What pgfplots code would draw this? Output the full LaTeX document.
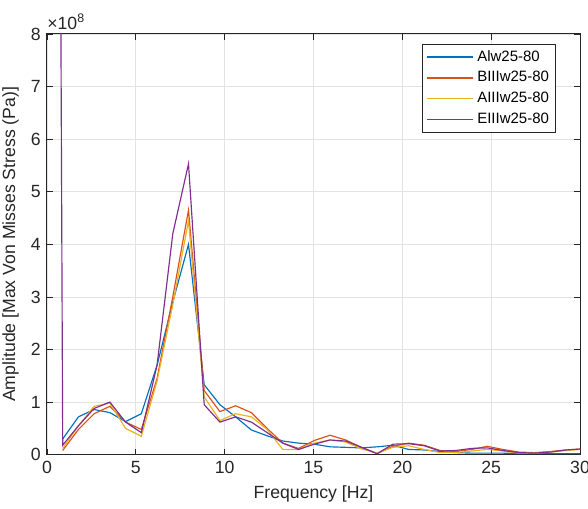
\documentclass[border=0pt]{standalone}
\usepackage{fontspec}
\setmainfont{Liberation Sans}
\usepackage{pgfplots}
\pgfplotsset{compat=1.18}
\usetikzlibrary{calc}
\definecolor{mblue}{rgb}{0,0.447,0.741}
\definecolor{morange}{rgb}{0.85,0.325,0.098}
\definecolor{myellow}{rgb}{0.929,0.694,0.125}
\definecolor{mpurple}{rgb}{0.494,0.184,0.556}
\definecolor{axgray}{rgb}{0.15,0.15,0.15}
\begin{document}
\fontsize{10.6}{12.7}\selectfont
\begin{tikzpicture}
\begin{axis}[
  name=ax,
  width=320pt, height=252.6pt, scale only axis,
  xmin=0, xmax=30, ymin=0, ymax=8,
  xtick={0,5,...,30}, ytick={0,...,8},
  grid=major, major grid style={gray!22, line width=0.4pt},
  axis line style={axgray, line width=0.6pt},
  tick style={axgray, line width=0.5pt},
  tick align=inside, major tick length=3.5pt,
  ticklabel style={text=axgray, font=\fontsize{10.6}{12}\selectfont},
  /pgf/number format/assume math mode=true,
  xlabel={Frequency [Hz]},
  ylabel={Amplitude [Max Von Misses Stress (Pa)]},
  label style={text=axgray, font=\fontsize{10.6}{12}\selectfont},
  legend style={at={(rel axis cs:0.955,0.976)}, anchor=north east,
    draw=axgray, line width=0.5pt, fill=white,
    font=\fontsize{9}{10}\selectfont, text=black,
    row sep=0.6pt, inner sep=1.5pt, inner xsep=2pt},
  legend cell align=left,
  legend image code/.code={\draw[#1, line width=0.8pt] (0pt,0pt) -- (28pt,0pt);},
  every axis plot/.append style={line width=0.7pt},
]
\addplot[mblue] coordinates {
(0.885,0.30) (1.77,0.72) (2.655,0.86) (3.54,0.80) (4.425,0.63) (5.31,0.78)
(6.195,1.70) (7.08,2.90) (7.965,4.00) (8.85,1.33) (9.735,0.95) (10.62,0.72)
(11.505,0.47) (12.39,0.36) (13.275,0.26) (14.16,0.22) (15.045,0.20) (15.93,0.15)
(16.815,0.14) (17.7,0.13) (18.585,0.15) (19.47,0.18) (20.355,0.10) (21.24,0.09)
(22.125,0.06) (23.01,0.04) (23.895,0.03) (24.78,0.03) (25.665,0.03) (26.55,0.02)
(27.435,0.02) (28.32,0.02) (29.205,0.02) (30.09,0.02)};
\addlegendentry{Alw25-80}
\addplot[morange] coordinates {
(0.885,0.08) (1.77,0.48) (2.655,0.78) (3.54,0.92) (4.425,0.62) (5.31,0.48)
(6.195,1.45) (7.08,3.00) (7.965,4.65) (8.85,1.22) (9.735,0.82) (10.62,0.93)
(11.505,0.80) (12.39,0.50) (13.275,0.22) (14.16,0.12) (15.045,0.27) (15.93,0.37)
(16.815,0.28) (17.7,0.14) (18.585,0.02) (19.47,0.16) (20.355,0.22) (21.24,0.18)
(22.125,0.08) (23.01,0.06) (23.895,0.10) (24.78,0.16) (25.665,0.10) (26.55,0.05)
(27.435,0.04) (28.32,0.06) (29.205,0.09) (30.09,0.11)};
\addlegendentry{BIIIw25-80}
\addplot[myellow] coordinates {
(0.885,0.12) (1.77,0.55) (2.655,0.92) (3.54,0.98) (4.425,0.50) (5.31,0.35)
(6.195,1.40) (7.08,2.85) (7.965,4.45) (8.85,1.10) (9.735,0.65) (10.62,0.78)
(11.505,0.72) (12.39,0.48) (13.275,0.10) (14.16,0.10) (15.045,0.22) (15.93,0.28)
(16.815,0.24) (17.7,0.11) (18.585,0.03) (19.47,0.14) (20.355,0.17) (21.24,0.10)
(22.125,0.04) (23.01,0.04) (23.895,0.07) (24.78,0.10) (25.665,0.07) (26.55,0.03)
(27.435,0.03) (28.32,0.05) (29.205,0.08) (30.09,0.10)};
\addlegendentry{AIIIw25-80}
\addplot[mpurple] coordinates {
(0,70) (0.885,0.18) (1.77,0.55) (2.655,0.88) (3.54,1.00) (4.425,0.62) (5.31,0.42)
(6.195,1.70) (7.08,4.20) (7.965,5.53) (8.85,0.95) (9.735,0.62) (10.62,0.72)
(11.505,0.62) (12.39,0.42) (13.275,0.22) (14.16,0.10) (15.045,0.20) (15.93,0.28)
(16.815,0.26) (17.7,0.14) (18.585,0.02) (19.47,0.20) (20.355,0.21) (21.24,0.17)
(22.125,0.07) (23.01,0.08) (23.895,0.12) (24.78,0.13) (25.665,0.08) (26.55,0.04)
(27.435,0.03) (28.32,0.05) (29.205,0.09) (30.09,0.11)};
\addlegendentry{EIIIw25-80}
\end{axis}
\node[anchor=south west, inner sep=0pt, text=axgray, yshift=2.5pt,
  font=\fontsize{10.6}{12}\selectfont] at (ax.north west) {×10\textsuperscript{8}};
\pgfresetboundingbox
\path[use as bounding box] ($(ax.south west)+(-28.2pt,-32.4pt)$) rectangle ($(ax.north east)+(4.8pt,20.4pt)$);
\end{tikzpicture}
\end{document}
